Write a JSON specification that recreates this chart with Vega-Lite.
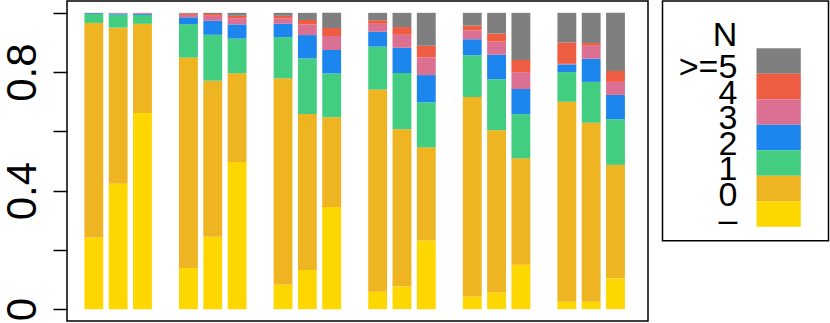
{
  "$schema": "https://vega.github.io/schema/vega-lite/v6.json",
  "background": "white",
  "padding": {"left": 0, "top": 0, "right": 0, "bottom": 0},
  "spacing": 12.5,
  "config": {"view": {"stroke": "black", "strokeWidth": 1.5}, "font": "Liberation Sans"},
  "datasets": {
    "bars": [
      {"g":"1","b":"1","c":"–","k":0,"v":0.242},{"g":"1","b":"1","c":"0","k":1,"v":0.724},{"g":"1","b":"1","c":"1","k":2,"v":0.030},{"g":"1","b":"1","c":"2","k":3,"v":0.003},{"g":"1","b":"1","c":"3","k":4,"v":0.001},{"g":"1","b":"1","c":"4","k":5,"v":0},{"g":"1","b":"1","c":">=5","k":6,"v":0},
      {"g":"1","b":"2","c":"–","k":0,"v":0.423},{"g":"1","b":"2","c":"0","k":1,"v":0.527},{"g":"1","b":"2","c":"1","k":2,"v":0.044},{"g":"1","b":"2","c":"2","k":3,"v":0.004},{"g":"1","b":"2","c":"3","k":4,"v":0.002},{"g":"1","b":"2","c":"4","k":5,"v":0},{"g":"1","b":"2","c":">=5","k":6,"v":0},
      {"g":"1","b":"3","c":"–","k":0,"v":0.662},{"g":"1","b":"3","c":"0","k":1,"v":0.301},{"g":"1","b":"3","c":"1","k":2,"v":0.030},{"g":"1","b":"3","c":"2","k":3,"v":0.004},{"g":"1","b":"3","c":"3","k":4,"v":0.003},{"g":"1","b":"3","c":"4","k":5,"v":0},{"g":"1","b":"3","c":">=5","k":6,"v":0},
      {"g":"2","b":"1","c":"–","k":0,"v":0.139},{"g":"2","b":"1","c":"0","k":1,"v":0.710},{"g":"2","b":"1","c":"1","k":2,"v":0.113},{"g":"2","b":"1","c":"2","k":3,"v":0.023},{"g":"2","b":"1","c":"3","k":4,"v":0.008},{"g":"2","b":"1","c":"4","k":5,"v":0.004},{"g":"2","b":"1","c":">=5","k":6,"v":0.003},
      {"g":"2","b":"2","c":"–","k":0,"v":0.244},{"g":"2","b":"2","c":"0","k":1,"v":0.527},{"g":"2","b":"2","c":"1","k":2,"v":0.155},{"g":"2","b":"2","c":"2","k":3,"v":0.047},{"g":"2","b":"2","c":"3","k":4,"v":0.017},{"g":"2","b":"2","c":"4","k":5,"v":0.006},{"g":"2","b":"2","c":">=5","k":6,"v":0.004},
      {"g":"2","b":"3","c":"–","k":0,"v":0.497},{"g":"2","b":"3","c":"0","k":1,"v":0.299},{"g":"2","b":"3","c":"1","k":2,"v":0.117},{"g":"2","b":"3","c":"2","k":3,"v":0.048},{"g":"2","b":"3","c":"3","k":4,"v":0.021},{"g":"2","b":"3","c":"4","k":5,"v":0.008},{"g":"2","b":"3","c":">=5","k":6,"v":0.010},
      {"g":"3","b":"1","c":"–","k":0,"v":0.082},{"g":"3","b":"1","c":"0","k":1,"v":0.697},{"g":"3","b":"1","c":"1","k":2,"v":0.139},{"g":"3","b":"1","c":"2","k":3,"v":0.045},{"g":"3","b":"1","c":"3","k":4,"v":0.019},{"g":"3","b":"1","c":"4","k":5,"v":0.008},{"g":"3","b":"1","c":">=5","k":6,"v":0.010},
      {"g":"3","b":"2","c":"–","k":0,"v":0.132},{"g":"3","b":"2","c":"0","k":1,"v":0.527},{"g":"3","b":"2","c":"1","k":2,"v":0.187},{"g":"3","b":"2","c":"2","k":3,"v":0.079},{"g":"3","b":"2","c":"3","k":4,"v":0.036},{"g":"3","b":"2","c":"4","k":5,"v":0.015},{"g":"3","b":"2","c":">=5","k":6,"v":0.024},
      {"g":"3","b":"3","c":"–","k":0,"v":0.345},{"g":"3","b":"3","c":"0","k":1,"v":0.303},{"g":"3","b":"3","c":"1","k":2,"v":0.147},{"g":"3","b":"3","c":"2","k":3,"v":0.080},{"g":"3","b":"3","c":"3","k":4,"v":0.047},{"g":"3","b":"3","c":"4","k":5,"v":0.027},{"g":"3","b":"3","c":">=5","k":6,"v":0.051},
      {"g":"4","b":"1","c":"–","k":0,"v":0.059},{"g":"4","b":"1","c":"0","k":1,"v":0.682},{"g":"4","b":"1","c":"1","k":2,"v":0.145},{"g":"4","b":"1","c":"2","k":3,"v":0.050},{"g":"4","b":"1","c":"3","k":4,"v":0.027},{"g":"4","b":"1","c":"4","k":5,"v":0.012},{"g":"4","b":"1","c":">=5","k":6,"v":0.025},
      {"g":"4","b":"2","c":"–","k":0,"v":0.077},{"g":"4","b":"2","c":"0","k":1,"v":0.530},{"g":"4","b":"2","c":"1","k":2,"v":0.190},{"g":"4","b":"2","c":"2","k":3,"v":0.085},{"g":"4","b":"2","c":"3","k":4,"v":0.044},{"g":"4","b":"2","c":"4","k":5,"v":0.026},{"g":"4","b":"2","c":">=5","k":6,"v":0.048},
      {"g":"4","b":"3","c":"–","k":0,"v":0.232},{"g":"4","b":"3","c":"0","k":1,"v":0.314},{"g":"4","b":"3","c":"1","k":2,"v":0.152},{"g":"4","b":"3","c":"2","k":3,"v":0.092},{"g":"4","b":"3","c":"3","k":4,"v":0.060},{"g":"4","b":"3","c":"4","k":5,"v":0.039},{"g":"4","b":"3","c":">=5","k":6,"v":0.111},
      {"g":"5","b":"1","c":"–","k":0,"v":0.043},{"g":"5","b":"1","c":"0","k":1,"v":0.673},{"g":"5","b":"1","c":"1","k":2,"v":0.141},{"g":"5","b":"1","c":"2","k":3,"v":0.054},{"g":"5","b":"1","c":"3","k":4,"v":0.030},{"g":"5","b":"1","c":"4","k":5,"v":0.016},{"g":"5","b":"1","c":">=5","k":6,"v":0.043},
      {"g":"5","b":"2","c":"–","k":0,"v":0.056},{"g":"5","b":"2","c":"0","k":1,"v":0.548},{"g":"5","b":"2","c":"1","k":2,"v":0.172},{"g":"5","b":"2","c":"2","k":3,"v":0.083},{"g":"5","b":"2","c":"3","k":4,"v":0.044},{"g":"5","b":"2","c":"4","k":5,"v":0.027},{"g":"5","b":"2","c":">=5","k":6,"v":0.070},
      {"g":"5","b":"3","c":"–","k":0,"v":0.150},{"g":"5","b":"3","c":"0","k":1,"v":0.359},{"g":"5","b":"3","c":"1","k":2,"v":0.149},{"g":"5","b":"3","c":"2","k":3,"v":0.085},{"g":"5","b":"3","c":"3","k":4,"v":0.057},{"g":"5","b":"3","c":"4","k":5,"v":0.041},{"g":"5","b":"3","c":">=5","k":6,"v":0.159},
      {"g":"6","b":"1","c":"–","k":0,"v":0.025},{"g":"6","b":"1","c":"0","k":1,"v":0.675},{"g":"6","b":"1","c":"1","k":2,"v":0.100},{"g":"6","b":"1","c":"2","k":3,"v":0.026},{"g":"6","b":"1","c":"3","k":4,"v":0.002},{"g":"6","b":"1","c":"4","k":5,"v":0.072},{"g":"6","b":"1","c":">=5","k":6,"v":0.100},
      {"g":"6","b":"2","c":"–","k":0,"v":0.025},{"g":"6","b":"2","c":"0","k":1,"v":0.604},{"g":"6","b":"2","c":"1","k":2,"v":0.138},{"g":"6","b":"2","c":"2","k":3,"v":0.078},{"g":"6","b":"2","c":"3","k":4,"v":0.044},{"g":"6","b":"2","c":"4","k":5,"v":0.009},{"g":"6","b":"2","c":">=5","k":6,"v":0.102},
      {"g":"6","b":"3","c":"–","k":0,"v":0.104},{"g":"6","b":"3","c":"0","k":1,"v":0.383},{"g":"6","b":"3","c":"1","k":2,"v":0.154},{"g":"6","b":"3","c":"2","k":3,"v":0.082},{"g":"6","b":"3","c":"3","k":4,"v":0.044},{"g":"6","b":"3","c":"4","k":5,"v":0.037},{"g":"6","b":"3","c":">=5","k":6,"v":0.196}
    ],
    "legend": [
      {"c":">=5"},{"c":"4"},{"c":"3"},{"c":"2"},{"c":"1"},{"c":"0"},{"c":"–"}
    ]
  },
  "hconcat": [
    {
      "width": 581,
      "height": 320,
      "data": {"name": "bars"},
      "mark": {"type": "bar"},
      "encoding": {
        "x": {"field": "g", "type": "nominal", "axis": null,
              "scale": {"paddingInner": 0.2865, "paddingOuter": 0.214, "align": 0.43}},
        "xOffset": {"field": "b", "type": "nominal",
              "scale": {"paddingInner": 0.2245, "paddingOuter": 0}},
        "y": {"field": "v", "type": "quantitative", "stack": "zero",
              "scale": {"domain": [-0.04, 1.04], "nice": false, "zero": false},
              "axis": {"values": [0, 0.2, 0.4, 0.6, 0.8, 1],
                       "labelExpr": "datum.value == 0 ? '0' : datum.value == 0.4 ? '0.4' : datum.value == 0.8 ? '0.8' : ''",
                       "grid": false, "domain": false, "title": null,
                       "tickSize": 14, "tickWidth": 1.5, "tickColor": "black",
                       "labelAngle": -90, "labelAlign": "center", "labelBaseline": "alphabetic",
                       "labelPadding": 17.7, "labelFontSize": 42, "labelFont": "Liberation Sans",
                       "labelColor": "black", "labelFlush": false, "labelOverlap": false, "labelBound": false}},
        "color": {"field": "c", "type": "nominal", "legend": null,
                  "scale": {"domain": ["–", "0", "1", "2", "3", "4", ">=5", "N"],
                            "range": ["#FFD700", "#EEB422", "#43CD80", "#1C86EE", "#DB7093", "#EE5C42", "#7F7F7F", "#FFFFFF"]}},
        "order": {"field": "k", "type": "quantitative", "sort": "ascending"}
      }
    },
    {
      "width": 166,
      "height": 239.7,
      "data": {"name": "legend"},
      "mark": {"type": "rect"},
      "encoding": {
        "y": {"field": "c", "type": "nominal",
              "scale": {"domain": ["N", ">=5", "4", "3", "2", "1", "0", "–"], "paddingInner": 0, "paddingOuter": 0.7, "align": 0.61},
              "axis": {"orient": "left", "offset": -74.3, "domain": false, "ticks": false, "tickSize": 0,
                       "labelPadding": 0, "labelFontSize": 34, "labelFont": "Liberation Sans", "labelColor": "black",
                       "labelAlign": "right", "labelBaseline": "middle", "title": null, "minExtent": 0,
                       "labelOffset": {"condition": {"test": "datum.value === 'N'", "value": 0}, "value": 7}}},
        "x": {"value": 94},
        "x2": {"value": 138.3},
        "color": {"field": "c", "type": "nominal", "legend": null,
                  "scale": {"domain": ["–", "0", "1", "2", "3", "4", ">=5", "N"],
                            "range": ["#FFD700", "#EEB422", "#43CD80", "#1C86EE", "#DB7093", "#EE5C42", "#7F7F7F", "#FFFFFF"]}}
      }
    }
  ]
}
